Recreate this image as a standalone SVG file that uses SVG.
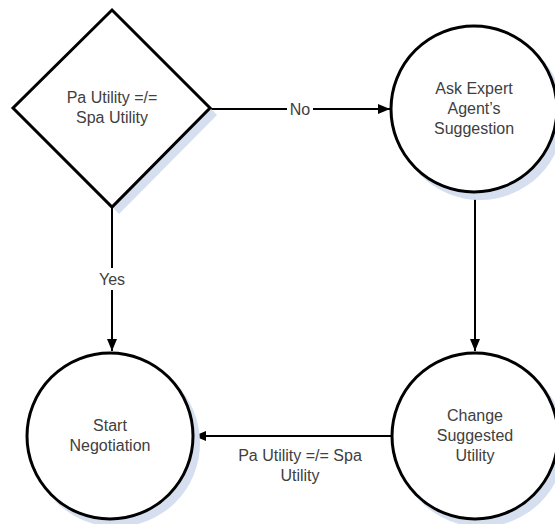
<svg xmlns="http://www.w3.org/2000/svg" width="555" height="524" viewBox="0 0 555 524">
<defs>
<marker id="arr" viewBox="0 0 12 12" refX="12" refY="6" markerWidth="12" markerHeight="12" markerUnits="userSpaceOnUse" orient="auto">
<path d="M0,1 L12,6 L0,11 Z" fill="#000"/>
</marker>
</defs>
<style>
.shape{fill:#fff;stroke:#000;stroke-width:3}
.shadow{fill:#d6dfef;stroke:none}
.conn{fill:none;stroke:#000;stroke-width:2;marker-end:url(#arr)}
.t{font-family:"Liberation Sans",Arial,sans-serif;font-size:16px;fill:#404040;text-anchor:middle}
.lbl{fill:#fff}
</style>
<rect width="555" height="524" fill="#fff"/>
<g id="connectors">
<line class="conn" x1="210" y1="109" x2="390" y2="109"/>
<rect class="lbl" x="287" y="99" width="26" height="20"/>
<text class="t" x="300" y="115">No</text>
<line class="conn" x1="112" y1="207" x2="112" y2="351"/>
<rect class="lbl" x="97" y="268" width="30" height="22"/>
<text class="t" x="112" y="285">Yes</text>
<line class="conn" x1="475" y1="193" x2="475" y2="351"/>
<line class="conn" x1="392" y1="436" x2="194" y2="436"/>
<text class="t" x="300" y="461">Pa Utility =/= Spa</text>
<text class="t" x="300" y="481">Utility</text>
</g>
<g id="decision">
<polygon class="shadow" points="119,17 217,115 119,214 20,115"/>
<polygon class="shape" points="112,10 210,108 112,207 13,108"/>
<text class="t" x="112" y="103">Pa Utility =/=</text>
<text class="t" x="112" y="123">Spa Utility</text>
</g>
<g id="ask-expert">
<circle class="shadow" cx="480" cy="116" r="84"/>
<circle class="shape" cx="474" cy="109" r="83"/>
<text class="t" x="474" y="94">Ask Expert</text>
<text class="t" x="474" y="114">Agent’s</text>
<text class="t" x="474" y="134">Suggestion</text>
</g>
<g id="change-utility">
<circle class="shadow" cx="481" cy="443" r="84"/>
<circle class="shape" cx="475" cy="436" r="83"/>
<text class="t" x="475" y="421">Change</text>
<text class="t" x="475" y="441">Suggested</text>
<text class="t" x="475" y="461">Utility</text>
</g>
<g id="start-negotiation">
<circle class="shadow" cx="116" cy="443" r="84"/>
<circle class="shape" cx="110" cy="436" r="83"/>
<text class="t" x="110" y="431">Start</text>
<text class="t" x="110" y="451">Negotiation</text>
</g>
</svg>
